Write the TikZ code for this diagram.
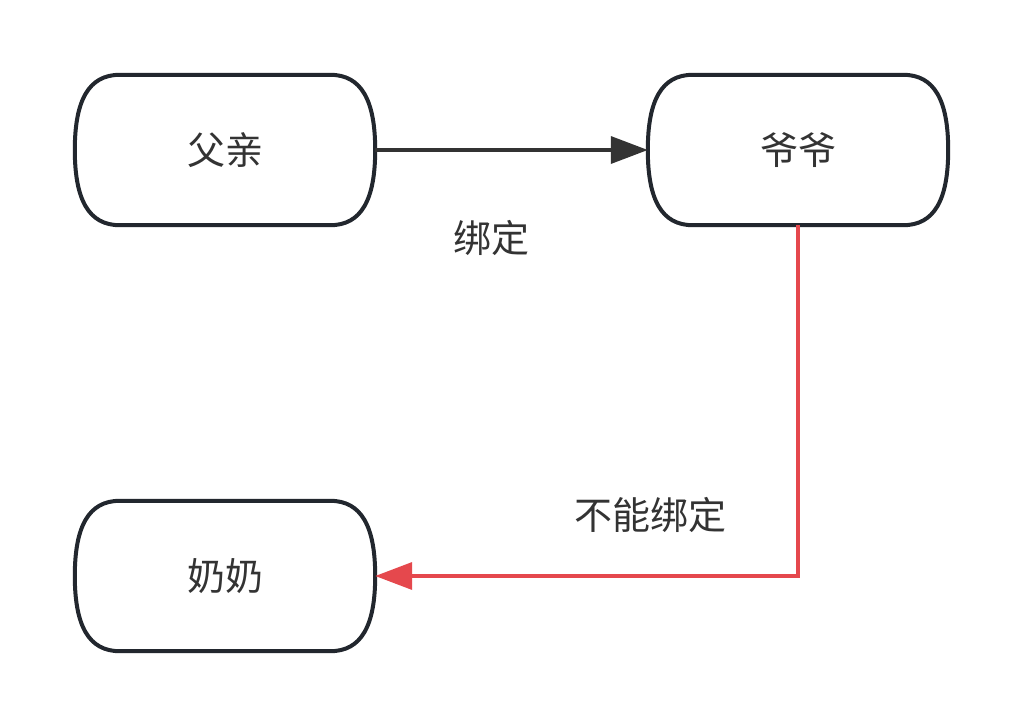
\documentclass[tikz,border=0pt]{standalone}
\usepackage{fontspec}
\setmainfont{Noto Sans CJK SC}
\usetikzlibrary{arrows.meta}
\definecolor{boxline}{HTML}{22272E}
\definecolor{txt}{HTML}{333333}
\definecolor{redline}{HTML}{E5484D}
\tikzset{
  term/.style={minimum width=300pt,minimum height=150pt,inner sep=0pt,text=txt,font=\fontsize{38pt}{44pt}\selectfont},
  lbl/.style={text=txt,font=\fontsize{38pt}{44pt}\selectfont,inner sep=0pt},
  outline/.style={draw=boxline,line width=4pt},
  conn/.style={line width=3.6pt,-{Triangle[length=37pt,width=27pt]}}
}
\newcommand{\termoutline}[1]{%
  \draw[outline] ([xshift=45pt]#1.north west) -- ([xshift=-45pt]#1.north east)
    .. controls ([xshift=-14pt]#1.north east) and ([yshift=50pt]#1.east) .. (#1.east)
    .. controls ([yshift=-50pt]#1.east) and ([xshift=-14pt]#1.south east) .. ([xshift=-45pt]#1.south east)
    -- ([xshift=45pt]#1.south west)
    .. controls ([xshift=14pt]#1.south west) and ([yshift=-50pt]#1.west) .. (#1.west)
    .. controls ([yshift=50pt]#1.west) and ([xshift=14pt]#1.north west) .. ([xshift=45pt]#1.north west)
    -- cycle;}
\begin{document}
\begin{tikzpicture}[x=1pt,y=-1pt]
\useasboundingbox (0,0) rectangle (1023,726);
\fill[white] (0,0) rectangle (1023,726);
\node[term] (fq) at (225,150) {父亲};
\node[term] (yy) at (798,150) {爷爷};
\node[term] (nn) at (225,576) {奶奶};
\termoutline{fq}
\termoutline{yy}
\termoutline{nn}
\draw[conn,draw=txt] (fq.east) -- (yy.west);
\draw[conn,draw=redline] (yy.south) |- (nn.east);
\node[lbl] (l1) at (491,238) {绑定};
\node[lbl] (l2) at (650,515) {不能绑定};
\end{tikzpicture}
\end{document}
